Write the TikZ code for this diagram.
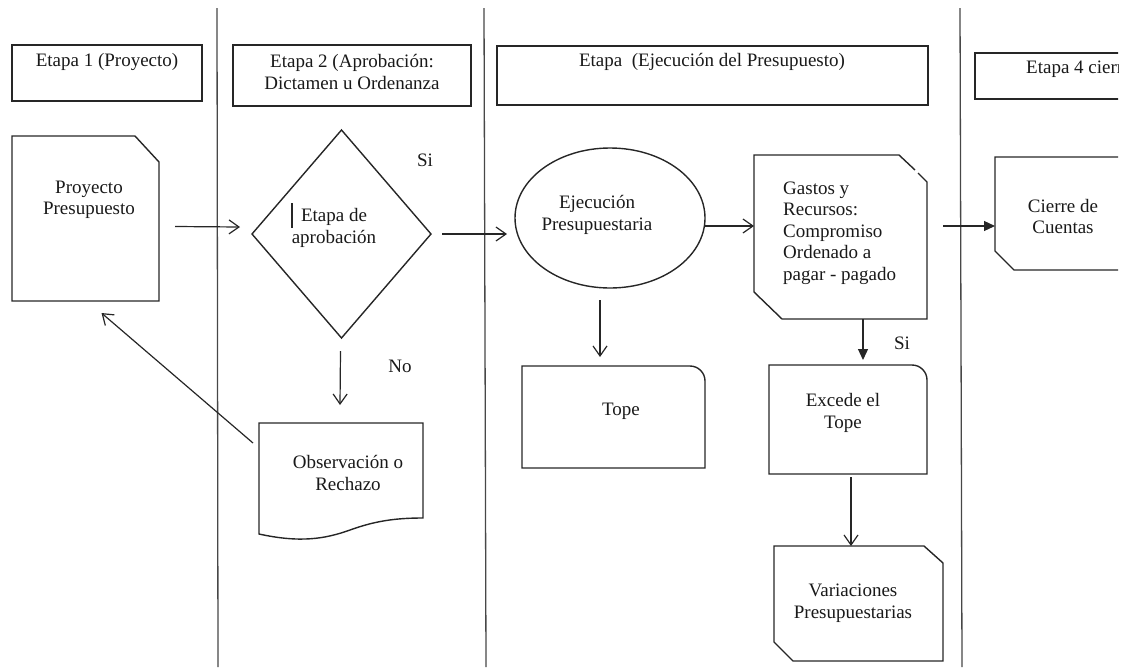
\documentclass[tikz,border=0pt]{standalone}
\usepackage{fontspec}
\setmainfont{Liberation Serif}
\usetikzlibrary{arrows.meta,shapes.geometric,calc}
\begin{document}
\begin{tikzpicture}[x=1pt,y=-1pt,
  ink/.style={draw=black!85, line width=1.4pt},
  lane/.style={draw=black!72, line width=1.3pt},
  frame/.style={inner sep=0pt, outer sep=0pt},
  txt/.style={font=\fontsize{19pt}{21.5pt}\selectfont, text=black!90, align=center, inner sep=0pt},
  arr/.style={draw=black!85, line width=1.2pt, -{Straight Barb[length=10pt,width=14pt]}},
  farr/.style={draw=black!85, line width=1.2pt, -{Triangle[length=11pt,width=10pt]}}
]
\useasboundingbox (0,0) rectangle (1129,667);
\begin{scope}
\clip (0,0) rectangle (1118,667);

% lane separators
\coordinate (l1t) at (217,8);   \coordinate (l1b) at (218,667);
\coordinate (l2t) at (484,8);   \coordinate (l2b) at (486,667);
\coordinate (l3t) at (960,8);   \coordinate (l3b) at (962,667);
\draw[lane] (l1t) -- (l1b);
\draw[lane] (l2t) -- (l2b);
\draw[lane] (l3t) -- (l3b);

% stage headers
\node[ink, minimum width=190pt, minimum height=56pt] (h1) at (107,73) {};
\node[txt] (h1t) at (107,62) {Etapa 1 (Proyecto)};
\node[ink, minimum width=238pt, minimum height=61pt] (h2) at (352,75.5) {};
\node[txt] (h2t) at (352,72) {Etapa 2 (Aprobación:\\Dictamen u Ordenanza};
\node[ink, minimum width=431pt, minimum height=59pt] (h3) at (712.5,75.5) {};
\node[txt] (h3t) at (712,62) {Etapa~~(Ejecución del Presupuesto)};
\node[ink, minimum width=165pt, minimum height=46pt] (h4) at (1057.5,76) {};
\node[txt, anchor=west] (h4t) at (1026,69) {Etapa 4 cierre};

% project document
\node[frame, minimum width=147pt, minimum height=165pt] (proy) at (85.5,218.5) {};
\draw[ink] (proy.south west) -- (proy.north west) -- ([xshift=-24pt]proy.north east)
  -- ([yshift=-26pt]proy.north east) -- (proy.south east) -- cycle;
\node[txt] (proyT) at (89,200) {Proyecto\\Presupuesto};

% approval decision
\node[frame, minimum width=179pt, minimum height=208pt] (dia) at (341.5,234) {};
\draw[ink] (dia.north) -- (dia.east) -- (dia.south) -- (dia.west) -- cycle;
\node[txt] (diaT) at (334,228) {Etapa de\\aprobación};
\coordinate (cur) at (292,203);
\draw[draw=black!85, line width=1.1pt] (cur) -- ++(0,25);
\node[txt] (si1) at (425,160) {Si};
\node[txt] (no) at (400,366) {No};

% observation / rejection document
\node[frame, minimum width=164pt, minimum height=111pt] (obs) at (341,478.5) {};
\draw[ink] (obs.south west) -- (obs.north west) -- (obs.north east) -- ($(obs.north east)+(0,95)$)
  .. controls ($(obs.north east)+(-28,95)$) and ($(obs.north east)+(-48,98)$) .. ($(obs.south west)+(91,-4)$)
  .. controls ($(obs.south west)+(66,5)$) and ($(obs.south west)+(41,9)$) .. (obs.south west) -- cycle;
\node[txt] (obsT) at (348,473) {Observación o\\Rechazo};

% budget execution
\node[ellipse, ink, frame, minimum width=190pt, minimum height=140pt] (eje) at (610,218) {};
\node[txt] (ejeT) at (597,215) {Ejecución\\Presupuestaria};

% expenses and resources
\node[frame, minimum width=173pt, minimum height=164pt] (gas) at (840.5,237) {};
\draw[ink] ([xshift=-9pt,yshift=-18pt]gas.north east) -- ([yshift=-27pt]gas.north east)
  -- (gas.south east) -- ([xshift=28pt]gas.south west) -- ([yshift=27pt]gas.south west)
  -- (gas.north west) -- ([xshift=-28pt]gas.north east) -- ([xshift=-12pt,yshift=-15pt]gas.north east);
\node[txt, align=left, anchor=west] (gasT) at (783,233) {Gastos y\\Recursos:\\Compromiso\\Ordenado a\\pagar - pagado};
\node[txt] (si2) at (902,343) {Si};

% closing of accounts
\node[frame, minimum width=145pt, minimum height=113pt] (cie) at (1067.5,213.5) {};
\draw[ink] (cie.north east) -- (cie.north west) -- ([yshift=19pt]cie.south west)
  -- ([xshift=19pt]cie.south west) -- (cie.south east);
\node[txt] (cieT) at (1063,216.5) {Cierre de\\Cuentas};

% ceiling
\node[frame, minimum width=183pt, minimum height=102pt] (tope) at (613.5,417) {};
\draw[ink] (tope.south west) -- (tope.north west) -- ([xshift=-15pt]tope.north east)
  arc[start angle=90, end angle=0, radius=15pt] -- (tope.south east) -- cycle;
\node[txt] (topeT) at (621,411) {Tope};

% exceeds the ceiling
\node[frame, minimum width=158pt, minimum height=109pt] (exc) at (848,419.5) {};
\draw[ink] (exc.south west) -- (exc.north west) -- ([xshift=-15pt]exc.north east)
  arc[start angle=90, end angle=0, radius=15pt] -- (exc.south east) -- cycle;
\node[txt] (excT) at (843,413) {Excede el\\Tope};

% budget variations
\node[frame, minimum width=169pt, minimum height=115pt] (var) at (858.5,603.5) {};
\draw[ink] (var.north west) -- ([xshift=-19pt]var.north east) -- ([yshift=-17pt]var.north east)
  -- (var.south east) -- ([xshift=19pt]var.south west) -- ([yshift=19pt]var.south west) -- cycle;
\node[txt] (varT) at (853,603) {Variaciones\\Presupuestarias};

% connectors
\draw[arr] ($(proy.east)+(16,8)$) -- ($(dia.west)+(-12,-7)$);
\draw[arr] ($(dia.east)+(11,0)$) -- ($(eje.west)+(-8,16)$);
\draw[arr] ($(eje.east)+(0,8)$) -- ($(gas.west)+(0,-11)$);
\draw[farr] ($(gas.east)+(16,-11)$) -- ($(cie.west)+(0,12.5)$);
\draw[arr] ($(eje.south)+(-10,12)$) -- ($(tope.north)+(-13.5,-9)$);
\draw[farr] ($(gas.south)+(22.5,0)$) -- ($(exc.north)+(15,-5)$);
\draw[arr] ($(exc.south)+(3,3)$) -- ($(var.north)+(-7.5,0)$);
\draw[arr] ($(dia.south)+(-1,13)$) -- ($(obs.north)+(-1,-18)$);
\draw[arr] ($(obs.north west)+(-6,20)$) -- ($(proy.south)+(16,12)$);
\end{scope}
\end{tikzpicture}
\end{document}
